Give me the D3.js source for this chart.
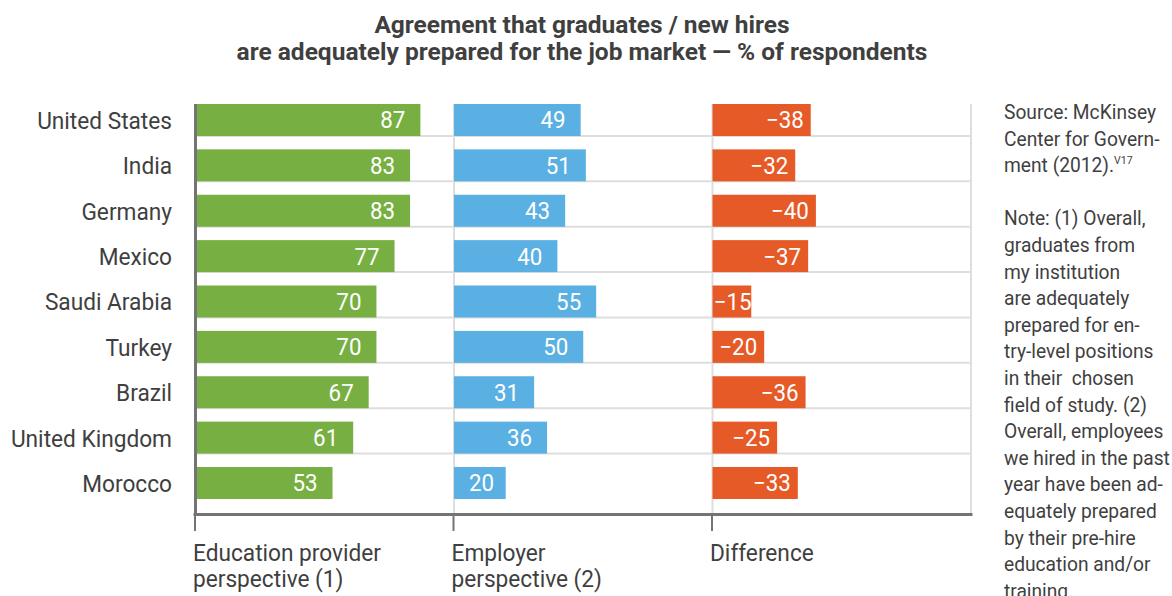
<!DOCTYPE html>
<html>
<head>
<meta charset="utf-8">
<script src="https://cdn.jsdelivr.net/npm/d3@7"></script>
<style>
  html, body { margin: 0; padding: 0; background: #fff; }
  svg { display: block; font-family: Roboto, 'Noto Sans', sans-serif; }
</style>
</head>
<body>
<svg id="chart" width="1172" height="596"></svg>
<script>
const countries = ['United States', 'India', 'Germany', 'Mexico', 'Saudi Arabia', 'Turkey', 'Brazil', 'United Kingdom', 'Morocco']
const educationValues = [87, 83, 83, 77, 70, 70, 67, 61, 53]
const employerValues = [49, 51, 43, 40, 55, 50, 31, 36, 20]
const differenceValues = [-38, -32, -40, -37, -15, -20, -36, -25, -33]

const panelNames = [['Education provider', 'perspective (1)'], ['Employer', 'perspective (2)'], ['Difference']]
const titleLines = ['Agreement that graduates / new hires', 'are adequately prepared for the job market \u2014 % of respondents']
const noteLines = [
  'Source: McKinsey', 'Center for Govern-', 'ment (2012).', '',
  'Note: (1) Overall,', 'graduates from', 'my institution', 'are adequately',
  'prepared for en-', 'try-level positions', 'in their\u00a0 chosen', 'field of study. (2)',
  'Overall, employees', 'we hired in the past', 'year have been ad-', 'equately prepared',
  'by their pre-hire', 'education and/or', 'training.'
]

const colors = { education: '#77af42', employer: '#5ab0e2', difference: '#e55a27', text: '#3f3f3f', axis: '#747474', grid: '#dedede' }

const svg = d3.select('#chart')

const plotLeft = 195.5
const panelWidth = 258.5
const plotTop = 104
const axisY = 514.5

// condensed text: scale horizontally around the anchor point
function addText (parent, str, x, y, size, opts = {}) {
  const sx = opts.sx || 0.945
  return parent.append('text')
    .attr('transform', `translate(${x},${y}) scale(${sx},1)`)
    .attr('text-anchor', opts.anchor || 'start')
    .attr('font-size', size)
    .attr('font-weight', opts.weight || 400)
    .attr('fill', opts.fill || colors.text)
    .text(str)
}

const yScale = d3.scaleBand()
  .domain(countries)
  .range([plotTop, plotTop + 45.375 * (countries.length - 0.2948)])
  .paddingInner(0.2948)
  .paddingOuter(0)

// minEnd keeps a label inside a short bar
const panels = [
  { key: 'education', values: educationValues, pad: 15, minEnd: 40 },
  { key: 'employer', values: employerValues, pad: 15, minEnd: 40 },
  { key: 'difference', values: differenceValues, pad: 7, minEnd: 39 }
]

// title
titleLines.forEach((t, i) => {
  addText(svg, t, 582, 33 + i * 27, 24.5, { anchor: 'middle', weight: 700, sx: 1.0 })
})

// horizontal grid lines under each row but the last
svg.append('g')
  .selectAll('line')
  .data(countries.slice(0, -1))
  .join('line')
  .attr('x1', plotLeft)
  .attr('x2', plotLeft + 3 * panelWidth)
  .attr('y1', d => yScale(d) + yScale.bandwidth())
  .attr('y2', d => yScale(d) + yScale.bandwidth())
  .attr('stroke', colors.grid)
  .attr('stroke-width', 2)

// vertical grid lines at panel starts and right border
svg.append('g')
  .selectAll('line')
  .data([1, 2, 3])
  .join('line')
  .attr('x1', d => plotLeft + d * panelWidth)
  .attr('x2', d => plotLeft + d * panelWidth)
  .attr('y1', plotTop)
  .attr('y2', axisY)
  .attr('stroke', colors.grid)
  .attr('stroke-width', 2)

panels.forEach((p, i) => {
  const x0 = plotLeft + i * panelWidth
  const xScale = d3.scaleLinear().domain([0, 100]).range([0, panelWidth])
  const rows = countries.map((c, j) => ({ country: c, value: p.values[j] }))

  const g = svg.append('g').attr('transform', `translate(${x0},0)`)

  g.selectAll('rect')
    .data(rows)
    .join('rect')
    .attr('x', 0)
    .attr('y', d => yScale(d.country))
    .attr('width', d => xScale(Math.abs(d.value)))
    .attr('height', yScale.bandwidth())
    .attr('fill', colors[p.key])

  rows.forEach(d => {
    const label = d.value < 0 ? '\u2212' + Math.abs(d.value) : String(d.value)
    const end = Math.max(xScale(Math.abs(d.value)) - p.pad, p.minEnd)
    addText(g, label, end, yScale(d.country) + yScale.bandwidth() / 2 + 8.5, 23.5,
      { anchor: 'end', fill: '#fff', sx: 0.95 })
  })

  // panel label under the axis
  panelNames[i].forEach((t, k) => {
    addText(svg, t, x0 - 2.5, 561 + k * 26, 24)
  })
})

// country labels
countries.forEach(c => {
  addText(svg, c, 172, yScale(c) + yScale.bandwidth() / 2 + 9, 24, { anchor: 'end' })
})

// axes
svg.append('line')
  .attr('x1', plotLeft).attr('x2', plotLeft)
  .attr('y1', plotTop).attr('y2', axisY + 1.5)
  .attr('stroke', colors.axis).attr('stroke-width', 3)

svg.append('line')
  .attr('x1', plotLeft - 2).attr('x2', plotLeft + 3 * panelWidth + 1.5)
  .attr('y1', axisY).attr('y2', axisY)
  .attr('stroke', colors.axis).attr('stroke-width', 3)

svg.append('g')
  .selectAll('line')
  .data([0, 1, 2])
  .join('line')
  .attr('x1', d => plotLeft + d * panelWidth - 0.5)
  .attr('x2', d => plotLeft + d * panelWidth - 0.5)
  .attr('y1', axisY)
  .attr('y2', 531)
  .attr('stroke', colors.axis)
  .attr('stroke-width', 2)

// source and note
noteLines.forEach((t, i) => {
  if (t === '') return
  const txt = addText(svg, t, 1004, 119 + i * 26.6, 20, { sx: 0.96 })
  if (i === 2) {
    txt.append('tspan').attr('font-size', 11).attr('dy', -8).text('V17')
  }
})
</script>
</body>
</html>
